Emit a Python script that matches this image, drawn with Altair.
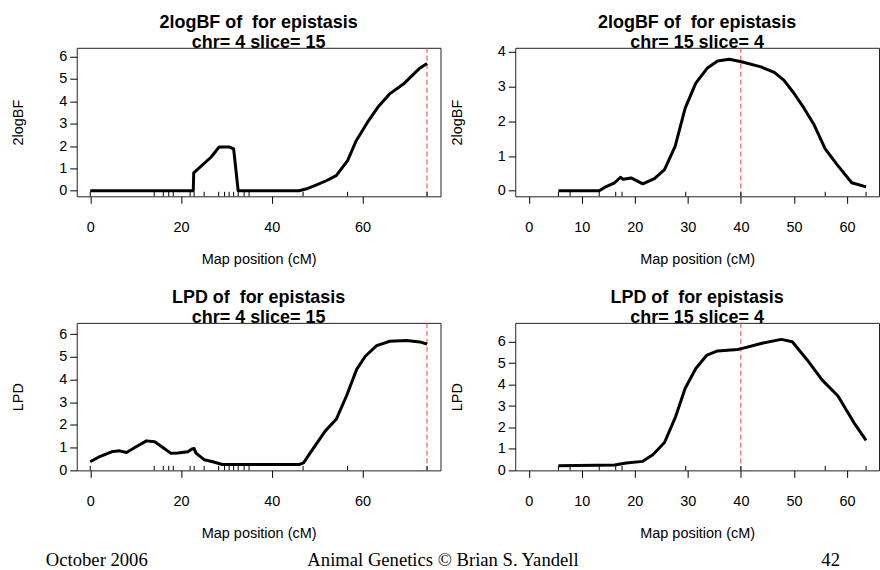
import altair as alt
import pandas as pd

# ---- data ----
# Panel 1: 2logBF, chr 4, slice 15
x1 = [0, 22.7, 22.8, 26.6, 28.4, 30.6, 31.6, 32.6, 46.0, 47.5, 49.6, 52.0, 54.2, 56.7,
      58.6, 61.3, 63.5, 65.9, 69.0, 72.6, 74.2]
y1 = [0, 0, 0.80, 1.50, 1.96, 1.96, 1.87, 0, 0, 0.08, 0.24, 0.45, 0.68, 1.35,
      2.24, 3.13, 3.77, 4.32, 4.77, 5.48, 5.69]
# Panel 2: 2logBF, chr 15, slice 4
x2 = [5.6, 13.3, 14.6, 16.2, 17.3, 17.8, 19.3, 21.5, 23.7, 25.6, 27.6, 29.5, 31.5, 33.7,
      35.6, 37.8, 40.1, 43.8, 46.3, 48.1, 50.0, 51.9, 53.8, 55.9, 58.1, 60.9, 63.6]
y2 = [0, 0, 0.12, 0.23, 0.39, 0.33, 0.37, 0.20, 0.35, 0.61, 1.28, 2.38, 3.10, 3.54,
      3.74, 3.79, 3.72, 3.57, 3.41, 3.19, 2.81, 2.38, 1.90, 1.21, 0.76, 0.23, 0.11]
# Panel 3: LPD, chr 4, slice 15
x3 = [0, 2.1, 4.7, 6.5, 8.0, 10.2, 12.4, 14.2, 16.0, 17.8, 19.3, 21.5, 22.4, 22.9, 23.3,
      25.1, 27.0, 29.1, 46.0, 47.0, 48.5, 51.8, 54.2, 56.5, 58.7, 60.6, 63.1, 66.0, 69.7,
      72.6, 74.2]
y3 = [0.38, 0.61, 0.82, 0.86, 0.79, 1.05, 1.30, 1.26, 1.01, 0.75, 0.77, 0.82, 0.94, 0.96,
      0.76, 0.47, 0.38, 0.26, 0.26, 0.33, 0.78, 1.74, 2.25, 3.30, 4.45, 5.03, 5.50, 5.69,
      5.72, 5.66, 5.57]
# Panel 4: LPD, chr 15, slice 4
x4 = [5.6, 16.2, 18.4, 21.5, 23.4, 25.6, 27.7, 29.5, 31.5, 33.6, 35.6, 39.4, 40.3, 43.8,
      47.6, 49.7, 52.5, 55.3, 58.3, 61.3, 63.6]
y4 = [0.22, 0.25, 0.34, 0.42, 0.73, 1.30, 2.51, 3.83, 4.75, 5.38, 5.57, 5.64, 5.69, 5.92,
      6.11, 6.00, 5.15, 4.22, 3.47, 2.23, 1.40]

# marker positions (rug) and slice positions (dashed line)
rug_chr4 = [0, 14.1, 16.1, 17.3, 18.3, 22.0, 22.9, 25.1, 28.3, 29.6, 30.6, 31.6, 32.6,
            33.9, 35.0, 46.9, 56.7, 74.2]
rug_chr15 = [5.6, 7.8, 13.3, 16.4, 17.6, 29.6, 40.0, 55.9, 63.6]
slice_chr4 = 74.2
slice_chr15 = 40.0

xticks_chr4 = [0, 20, 40, 60]
xticks_chr15 = [0, 10, 20, 30, 40, 50, 60]
yticks_bf4 = [0, 1, 2, 3, 4, 5, 6]
yticks_bf15 = [0, 1, 2, 3, 4]
yticks_lpd = [0, 1, 2, 3, 4, 5, 6]

titles = [["2logBF of \u00a0for epistasis", "chr= 4 slice= 15"],
          ["2logBF of \u00a0for epistasis", "chr= 15 slice= 4"],
          ["LPD of \u00a0for epistasis", "chr= 4 slice= 15"],
          ["LPD of \u00a0for epistasis", "chr= 15 slice= 4"]]
ytitles = ["2logBF", "2logBF", "LPD", "LPD"]
xtitle = "Map position (cM)"
footer_left = "October 2006"
footer_mid = "Animal Genetics \u00a9 Brian S. Yandell"
footer_right = "42"

SANS = "Liberation Sans, Arial, sans-serif"
SERIF = "Liberation Serif, Times New Roman, serif"
W = 365


def text_layer(txt, xv, yv, **kw):
    return alt.Chart(pd.DataFrame({"t": [txt]})).mark_text(
        baseline="alphabetic", color="black", **kw
    ).encode(text="t:N", x=alt.value(xv), y=alt.value(yv))


def panel(xs, ys, rug, mark, xdom, ydom, xticks, yticks, ytitle, title, h,
          footer=False, anchor=False):
    df = pd.DataFrame({"pos": xs, "val": ys})
    xsc = alt.Scale(domain=xdom, nice=False, zero=False)
    ysc = alt.Scale(domain=ydom, nice=False, zero=False)
    xax = alt.Axis(values=xticks, title=xtitle, format="d")
    yax = alt.Axis(values=yticks, title=ytitle, format="d")
    line = alt.Chart(df).mark_line(color="black", strokeWidth=3, strokeJoin="round").encode(
        x=alt.X("pos:Q", scale=xsc, axis=xax),
        y=alt.Y("val:Q", scale=ysc, axis=yax),
    )
    rugc = alt.Chart(pd.DataFrame({"pos": rug})).mark_rule(color="black", strokeWidth=1).encode(
        x=alt.X("pos:Q", scale=xsc, axis=xax),
        y=alt.value(h),
        y2=alt.value(h - 4.5),
    )
    red = alt.Chart(pd.DataFrame({"pos": [mark]})).mark_rule(
        color="#f03c3c", strokeWidth=1, strokeDash=[5, 3]
    ).encode(x=alt.X("pos:Q", scale=xsc, axis=xax))
    layers = [red, rugc, line]
    # two-line bold title, second line sitting on the top edge of the box
    layers.append(text_layer(title[0], W / 2, -19.5, font=SANS, fontSize=18,
                             fontWeight="bold", align="center"))
    layers.append(text_layer(title[1], W / 2, 0.5, font=SANS, fontSize=18,
                             fontWeight="bold", align="center"))
    if footer:
        for txt, xv, al in [(footer_left, -31, "left"), (footer_mid, 367.5, "center"),
                            (footer_right, 756.5, "center")]:
            layers.append(text_layer(txt, xv, 243.5, font=SERIF, fontSize=18.7, align=al))
    if anchor:
        layers.append(
            alt.Chart(pd.DataFrame({"a": [0]})).mark_rule(strokeOpacity=0, opacity=0).encode(
                x=alt.value(-76), y=alt.value(-46), y2=alt.value(-45)
            )
        )
    return alt.layer(*layers).properties(width=W, height=h)


p1 = panel(x1, y1, rug_chr4, slice_chr4, [-2.97, 77.17], [-0.245, 6.39], xticks_chr4,
           yticks_bf4, ytitles[0], titles[0], 149, anchor=True)
p2 = panel(x2, y2, rug_chr15, slice_chr15, [-2.54, 66.04], [-0.16, 4.12], xticks_chr15,
           yticks_bf15, ytitles[1], titles[1], 149)
p3 = panel(x3, y3, rug_chr4, slice_chr4, [-2.97, 77.17], [0, 6.5], xticks_chr4,
           yticks_lpd, ytitles[2], titles[2], 148, footer=True)
p4 = panel(x4, y4, rug_chr15, slice_chr15, [-2.54, 66.04], [0, 6.88], xticks_chr15,
           yticks_lpd, ytitles[3], titles[3], 148)

chart = alt.concat(p1, p2, p3, p4, columns=2, spacing={"row": 127, "column": 75},
                   bounds="flush").properties(padding=0, background="white").configure_view(
    stroke="#222", strokeWidth=1
).configure_axis(
    grid=False, domain=False, tickColor="black", tickSize=7, tickWidth=1,
    labelFont=SANS, labelFontSize=14.5, labelColor="black",
    titleFont=SANS, titleFontSize=14.5, titleFontWeight="normal", titleColor="black",
).configure_axisX(labelPadding=17, titlePadding=19, labelFlush=False
).configure_axisY(labelPadding=3, titlePadding=33, labelAngle=0)

chart.save("out.html", embed_options={"renderer": "svg", "actions": False})
